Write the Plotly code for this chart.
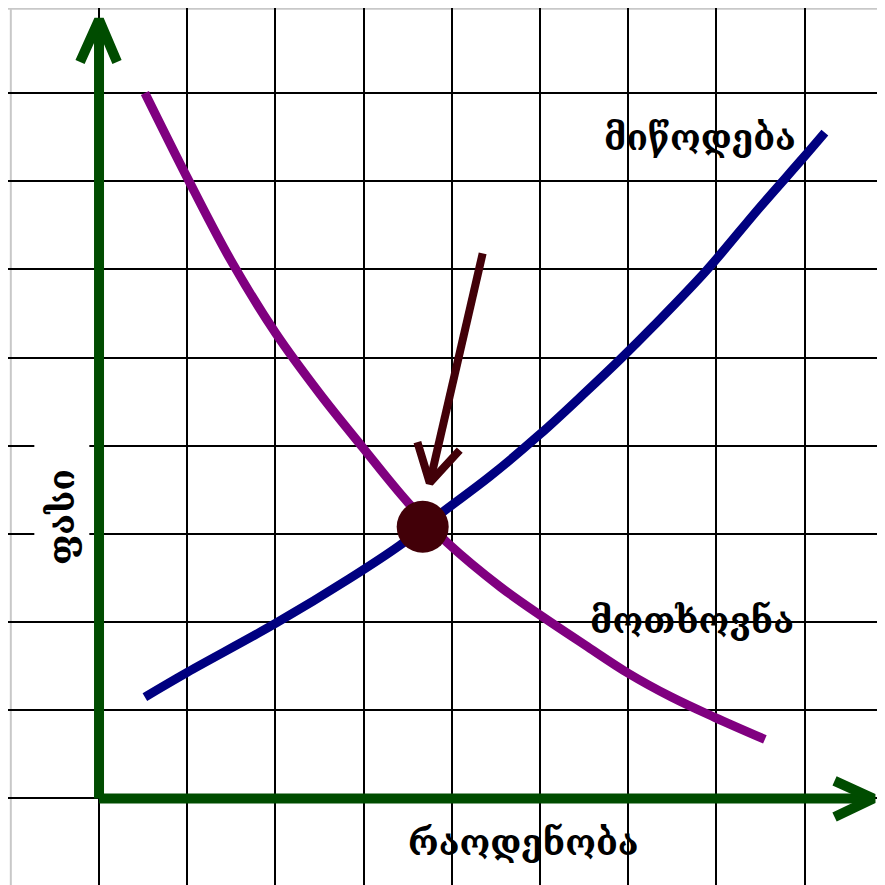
import plotly.graph_objects as go

# grid units: one cell = 1
demand_x = [0.52, 1.00, 1.49, 2.00, 2.51, 2.99, 3.50, 3.95, 4.55, 5.03, 5.51, 6.00, 6.49, 6.98, 7.55]
demand_y = [8.00, 7.04, 6.11, 5.28, 4.58, 3.98, 3.36, 2.90, 2.40, 2.06, 1.74, 1.42, 1.15, 0.92, 0.67]

supply_x = [0.52, 1.00, 2.01, 2.85, 3.41, 3.90, 4.43, 5.00, 5.51, 5.93, 6.28, 6.89, 7.49, 7.99, 8.23]
supply_y = [1.15, 1.43, 1.99, 2.50, 2.87, 3.25, 3.65, 4.13, 4.60, 5.00, 5.35, 5.99, 6.70, 7.27, 7.55]

# equilibrium point and the arrow pointing at it
eq_x = [3.67]
eq_y = [3.08]
pointer_x = [4.35, 3.75, None, 3.61, 3.75, 4.09]
pointer_y = [6.18, 3.58, None, 4.04, 3.58, 3.95]

# hand-drawn axes with open arrow heads
yaxis_arrow_x = [0, 0, None, -0.215, 0, 0.204]
yaxis_arrow_y = [0, 8.83, None, 8.35, 8.83, 8.35]
xaxis_arrow_x = [0, 8.78, None, 8.34, 8.78, 8.34]
xaxis_arrow_y = [0, 0, None, 0.20, 0, -0.21]

labels = {
    "supply": "მიწოდება",
    "demand": "მოთხოვნა",
    "quantity": "რაოდენობა",
    "price": "ფასი",
}

GREEN = "#004c00"
BROWN = "#420008"

fig = go.Figure()

fig.add_trace(go.Scatter(x=yaxis_arrow_x, y=yaxis_arrow_y, mode="lines",
                         line=dict(color=GREEN, width=10), hoverinfo="skip"))
fig.add_trace(go.Scatter(x=xaxis_arrow_x, y=xaxis_arrow_y, mode="lines",
                         line=dict(color=GREEN, width=10), hoverinfo="skip"))

fig.add_trace(go.Scatter(x=demand_x, y=demand_y, mode="lines", line_shape="spline",
                         line=dict(color="#800080", width=9), name="demand"))
fig.add_trace(go.Scatter(x=supply_x, y=supply_y, mode="lines", line_shape="spline",
                         line=dict(color="#000080", width=9), name="supply"))

fig.add_trace(go.Scatter(x=pointer_x, y=pointer_y, mode="lines",
                         line=dict(color=BROWN, width=8), hoverinfo="skip"))
fig.add_trace(go.Scatter(x=eq_x, y=eq_y, mode="markers",
                         marker=dict(color=BROWN, size=52, line=dict(width=0))))

font = dict(family="DejaVu Serif", size=35, color="black", weight="bold")
fig.add_annotation(x=6.81, y=7.50, text=labels["supply"], showarrow=False, font=font)
fig.add_annotation(x=6.72, y=2.02, text=labels["demand"], showarrow=False, font=font)
fig.add_annotation(x=4.81, y=-0.50, text=labels["quantity"], showarrow=False, font=font)
fig.add_annotation(x=-0.42, y=3.19, text=labels["price"], showarrow=False, font=font,
                   textangle=-90, bgcolor="white", width=180, height=52)

# light grey frame of the cropped picture
fig.add_vline(x=-1, line=dict(color="#c8c8c8", width=2), layer="below")
fig.add_hline(y=8.955, line=dict(color="#c8c8c8", width=2), layer="below")

# the page body adds 8px, so the figure is 877 wide and the ranges are shifted
fig.update_xaxes(range=[-1.032, 8.912], tickvals=list(range(0, 9)), showticklabels=False,
                 showgrid=True, gridcolor="black", gridwidth=2, zeroline=False,
                 showline=False, fixedrange=True)
fig.update_yaxes(range=[-0.981, 8.963], tickvals=list(range(0, 9)), showticklabels=False,
                 showgrid=True, gridcolor="black", gridwidth=2, zeroline=False,
                 showline=False, fixedrange=True)

fig.update_layout(
    width=877, height=877,
    margin=dict(l=0, r=0, t=0, b=0),
    plot_bgcolor="white", paper_bgcolor="white",
    showlegend=False,
)

fig.write_html("out.html")
